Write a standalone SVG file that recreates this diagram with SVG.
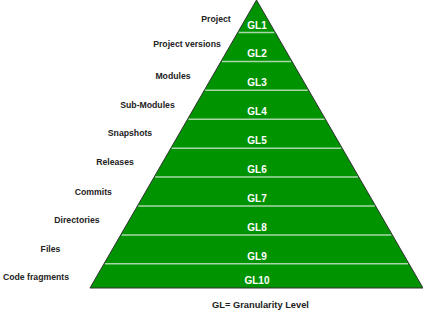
<svg xmlns="http://www.w3.org/2000/svg" width="423" height="311" viewBox="0 0 423 311">
<style>
.lbl{font-family:"Liberation Sans",Arial,sans-serif;font-weight:bold;font-size:8.7px;fill:#222;text-anchor:middle}
.gl{font-family:"Liberation Sans",Arial,sans-serif;font-weight:bold;font-size:10px;fill:#ffffff;text-anchor:middle}
.sep{stroke:#a9d7a9;stroke-width:1.5;fill:none}
</style>
<rect width="423" height="311" fill="#ffffff"/>
<g id="pyramid">
<polygon points="256.5,0 423,288 90,288" fill="#009300" stroke="#333" stroke-width="1"/>
</g>
<g id="connectors">
<line class="sep" x1="238.7" y1="32.5" x2="274.3" y2="32.5"/>
<line class="sep" x1="222" y1="61.4" x2="291" y2="61.4"/>
<line class="sep" x1="205.3" y1="90.3" x2="307.7" y2="90.3"/>
<line class="sep" x1="188.5" y1="119.3" x2="324.5" y2="119.3"/>
<line class="sep" x1="171.8" y1="148.2" x2="341.2" y2="148.2"/>
<line class="sep" x1="155.1" y1="177.1" x2="357.9" y2="177.1"/>
<line class="sep" x1="138.4" y1="206" x2="374.6" y2="206"/>
<line class="sep" x1="121.7" y1="234.9" x2="391.3" y2="234.9"/>
<line class="sep" x1="105" y1="263.8" x2="408" y2="263.8"/>
</g>
<g id="gl1"><text class="gl" x="257" y="28.5">GL1</text><text class="lbl" x="216" y="21.7">Project</text></g>
<g id="gl2"><text class="gl" x="257" y="57.4">GL2</text><text class="lbl" x="187" y="46.7">Project versions</text></g>
<g id="gl3"><text class="gl" x="257" y="86.3">GL3</text><text class="lbl" x="173" y="79">Modules</text></g>
<g id="gl4"><text class="gl" x="257" y="115.3">GL4</text><text class="lbl" x="147.5" y="107.7">Sub-Modules</text></g>
<g id="gl5"><text class="gl" x="257" y="144.2">GL5</text><text class="lbl" x="130" y="136">Snapshots</text></g>
<g id="gl6"><text class="gl" x="257" y="173.1">GL6</text><text class="lbl" x="115" y="165">Releases</text></g>
<g id="gl7"><text class="gl" x="257" y="202">GL7</text><text class="lbl" x="93.3" y="195">Commits</text></g>
<g id="gl8"><text class="gl" x="257" y="230.9">GL8</text><text class="lbl" x="77" y="223.3">Directories</text></g>
<g id="gl9"><text class="gl" x="257" y="259.8">GL9</text><text class="lbl" x="50.5" y="251.7">Files</text></g>
<g id="gl10"><text class="gl" x="257" y="284">GL10</text><text class="lbl" x="36" y="280">Code fragments</text></g>
<g id="caption"><text class="lbl" x="260.5" y="307.5" style="font-size:9.3px">GL= Granularity Level</text></g>
</svg>
